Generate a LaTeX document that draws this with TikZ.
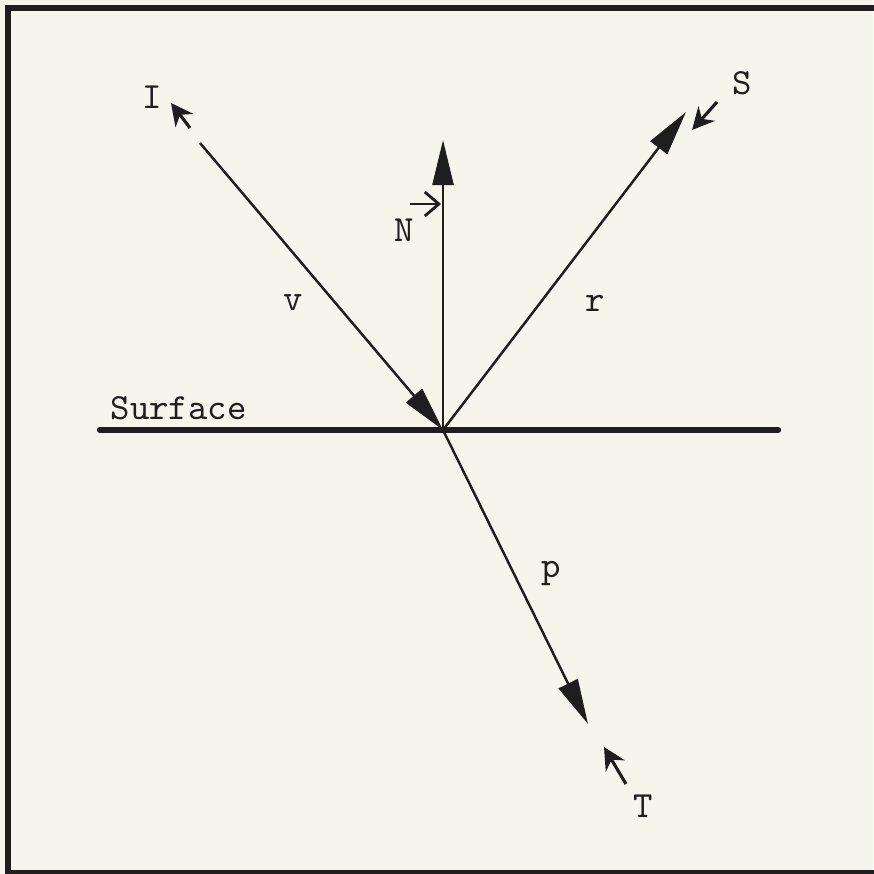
\documentclass[tikz,border=0pt]{standalone}
\usetikzlibrary{arrows.meta}
\definecolor{paper}{RGB}{245,245,236}
\definecolor{ink}{RGB}{30,30,30}
\tikzset{
  vec/.style={ink, line width=0.7pt, -{Triangle[length=4.5mm,width=2.1mm]}},
  pointer/.style={ink, line width=0.9pt, -{Stealth[length=2.2mm,width=2.2mm]}},
  lbl/.style={ink, font=\ttfamily\fontsize{10.5}{12}\selectfont, inner sep=0pt}
}
\begin{document}
\begin{tikzpicture}[x=0.01cm,y=-0.01cm]
    % Fondo y marco
    \fill[paper] (0,0) rectangle (873,874);
    \useasboundingbox (0,0) rectangle (873,874);
    \draw[ink, line width=1.7pt] (8,8) rectangle (885,873);
    % Punto de incidencia y extremos
    \coordinate (o) at (443,430);
    \coordinate (sl) at (100,430);
    \coordinate (sr) at (778,430);
    \coordinate (vs) at (200,143);
    \coordinate (nt) at (443,140);
    \coordinate (rt) at (686,112);
    \coordinate (pt) at (588,724);
    % Superficie
    \draw[ink, line width=1.8pt, line cap=round] (sl) -- (sr);
    \node[lbl, anchor=base west] (surf) at (110,420) {Surface};
    % Vectores v, N, r, p
    \draw[vec] (vs) -- (o);
    \draw[vec] (o) -- (nt);
    \draw[vec] (o) -- (rt);
    \draw[vec] (o) -- (pt);
    \node[lbl] (v) at (293,303) {v};
    \node[lbl] (r) at (595,303) {r};
    \node[lbl] (p) at (551,574) {p};
    \node[lbl] (n) at (404,230) {N};
    \coordinate (na) at (410,204);
    \coordinate (nb) at (441,204);
    \draw[ink, line width=0.8pt, -{Straight Barb[length=1.4mm,width=2.4mm]}] (na) -- (nb);
    % Puntos I, S, T
    \node[lbl] (i) at (152,97) {I};
    \node[lbl] (s) at (742,83) {S};
    \node[lbl] (t) at (643,806) {T};
    \coordinate (ia) at (190,128);
    \coordinate (ib) at (171,103);
    \coordinate (sa) at (717,102);
    \coordinate (sb) at (692,130);
    \coordinate (ta) at (626,784);
    \coordinate (tb) at (604,747);
    \draw[pointer] (ia) -- (ib);
    \draw[pointer] (sa) -- (sb);
    \draw[pointer] (ta) -- (tb);
\end{tikzpicture}
\end{document}
